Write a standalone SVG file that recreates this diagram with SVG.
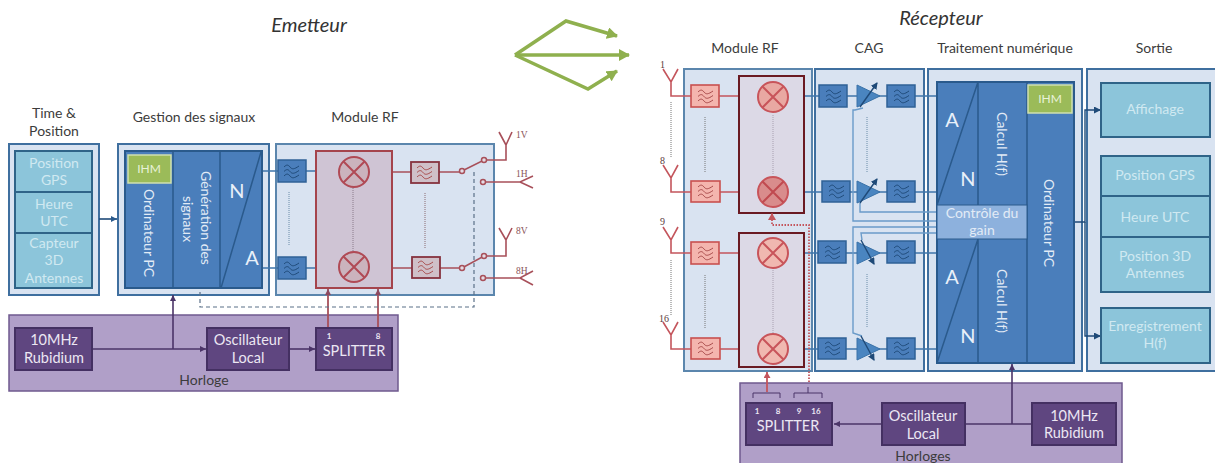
<svg xmlns="http://www.w3.org/2000/svg" width="1215" height="463" viewBox="0 0 1215 463">
<style>
text{font-family:Lato,"Open Sans",sans-serif;text-anchor:middle}
.h{font-size:14px;fill:#3c3c3c}
.t{font-size:20px;font-style:italic;fill:#333}
.w{font-size:14px;fill:#e2ebf6}
.c{font-size:14px;fill:#d0e9f1}
.p{font-size:14.500px;fill:#ece7f3}
.big{font-size:20px;fill:#e9f0f9}
.n{font-family:"Liberation Serif",serif;font-size:9.500px;fill:#8a5358;text-anchor:start}
.nb{font-family:"Liberation Serif",serif;font-size:10px;fill:#5a3a3c;text-anchor:start}
.pnum{font-size:8px;font-weight:bold;fill:#ece7f3}
.pane{fill:#d9e3f1;stroke:#5b86ad;stroke-width:2}
.pane2{fill:#d9e3f1;stroke:#3f6f9f;stroke-width:2}
.blue{fill:#4a7ebb;stroke:#2a5a8c;stroke-width:2}
.cy{fill:#8cc5da;stroke:#2f6488;stroke-width:2}
.hor{fill:#b09fc8;stroke:#6f5a8e;stroke-width:1.500}
.pur{fill:#5f4680;stroke:#443062;stroke-width:2}
.ihm{fill:#9bbb59;stroke:#cfe0b0;stroke-width:1.500}
.lbl{fill:#e8f2d8;font-size:12px}
.mixbox{fill:#cfc4d4;stroke:#a5444c;stroke-width:2}
.mixboxd{fill:#dcd9e6;stroke:#6a1a22;stroke-width:2}
.rl{fill:none;stroke:#a8505a;stroke-width:1.600}
.rr{fill:none;stroke:#c4555c;stroke-width:1.600}
.bl{fill:none;stroke:#3f75aa;stroke-width:1.600}
.bl2{fill:none;stroke:#6a9bc9;stroke-width:1.400}
.dark{fill:none;stroke:#1f4a78;stroke-width:1.400}
.pl{fill:none;stroke:#4b3468;stroke-width:1.600}
.dash{fill:none;stroke:#5a7088;stroke-width:1.200;stroke-dasharray:4 3}
.dot{fill:none;stroke-width:1;stroke-dasharray:1 1}
.fb{fill:#4a7ebb;stroke:#2f6296;stroke-width:1.500}
.fr{fill:#f4b5ae;stroke:#c8504f;stroke-width:1.600}
.fd{fill:#cfc0c8;stroke:#85323f;stroke-width:1.800}
.wb{fill:none;stroke:#1f4a78;stroke-width:1}
.wr{fill:none;stroke:#a84a4a;stroke-width:1}
.mx{fill:#e9a8a2;stroke:#c8545a;stroke-width:2}
.mx2{fill:#cbb3bd;stroke:#b04a55;stroke-width:2}
.amp{fill:#4a85c0;stroke:#3a72a8;stroke-width:1}
</style>
<defs>
<marker id="ap" markerWidth="7" markerHeight="7" refX="6" refY="3" orient="auto" markerUnits="userSpaceOnUse"><path d="M0,0L6,3L0,6Z" fill="#4b3468"/></marker>
<marker id="ab" markerWidth="7" markerHeight="7" refX="6" refY="3" orient="auto" markerUnits="userSpaceOnUse"><path d="M0,0L6,3L0,6Z" fill="#2a5a8c"/></marker>
<marker id="ar" markerWidth="7" markerHeight="7" refX="6" refY="3" orient="auto" markerUnits="userSpaceOnUse"><path d="M0,0L6,3L0,6Z" fill="#8c4a60"/></marker>
<marker id="arr" markerWidth="8" markerHeight="8" refX="6" refY="3.500" orient="auto" markerUnits="userSpaceOnUse"><path d="M0,0L6,3.500L0,7Z" fill="#c4555c"/></marker>
<marker id="ag" markerWidth="13" markerHeight="13" refX="10" refY="6" orient="auto" markerUnits="userSpaceOnUse"><path d="M0,0L11,6L0,12Z" fill="#8fb04e"/></marker>
<marker id="ad" markerWidth="9" markerHeight="9" refX="6" refY="3.500" orient="auto" markerUnits="userSpaceOnUse"><path d="M0,0L7,3.500L0,7Z" fill="#1f4a78"/></marker>
<g id="wv"><path d="M-8,-4c2.500,-2.500 4,-2.500 6,0s4,2.500 9,-1M-8,0.500c2.500,-2.500 4,-2.500 6,0s4,2.500 9,-1M-8,5c2.500,-2.500 4,-2.500 6,0s4,2.500 9,-1"/></g>
<g id="xx"><path d="M-10.500,-10.500L10.500,10.500M-10.500,10.500L10.500,-10.500"/></g>
</defs>

<g id="titles">
<text class="t" x="309" y="32">Emetteur</text>
<text class="t" x="941" y="25">Récepteur</text>
<text class="h" x="54" y="118">Time &amp;</text><text class="h" x="54" y="136">Position</text>
<text class="h" x="194" y="122">Gestion des signaux</text>
<text class="h" x="365" y="122">Module RF</text>
<text class="h" x="745" y="53">Module RF</text>
<text class="h" x="869" y="53">CAG</text>
<text class="h" x="1005" y="53">Traitement numérique</text>
<text class="h" x="1154" y="53">Sortie</text>
</g>

<g id="green-arrows" fill="none" stroke="#8fb04e" stroke-width="3.500">
<path d="M515,55L566,21L617,36" marker-end="url(#ag)"/>
<path d="M515,55L629,55" marker-end="url(#ag)"/>
<path d="M515,55L588,89L617,71" marker-end="url(#ag)"/>
</g>

<g id="containers">
<rect class="pane2" x="9" y="144" width="90" height="151"/>
<rect class="pane2" x="118" y="144" width="151" height="151"/>
<rect class="pane" x="276" y="144" width="218" height="151"/>
<rect class="hor" x="9" y="315" width="389" height="76"/>
<rect class="pane" x="684" y="69" width="128" height="302"/>
<rect class="pane2" x="815" y="69" width="109" height="302"/>
<rect class="pane2" x="928" y="69" width="154" height="302"/>
<rect class="pane2" x="1087" y="69" width="132" height="302"/>
<rect class="hor" x="740" y="383" width="382" height="85"/>
</g>

<g id="connectors">
<path class="bl" d="M262,171H316M262,268H316"/>
<path class="rl" d="M392,172H412M438,172H462M392,268H412M439,268H462"/>
<path class="rl" d="M462,171L484,160H506V145M506,145L499,132M506,145L512,132"/>
<path class="rl" d="M462,268L484,256H506V240M506,240L499,228M506,240L512,228"/>
<path class="rl" d="M483,182H520L533,176M520,182L533,188"/>
<path class="rl" d="M483,278H520L533,271M520,278L533,285"/>
<path d="M99,219H117" class="dark" style="stroke-width:1.600" marker-end="url(#ab)"/>
<path class="pl" d="M92,349H206" marker-end="url(#ap)"/>
<path class="pl" d="M173,349V295" marker-end="url(#ap)"/>
<path class="pl" d="M289,349H315" marker-end="url(#ap)"/>
<path d="M328,328V289" fill="none" stroke="#a8505a" stroke-width="1.800" marker-end="url(#ar)"/>
<path d="M378,328V289" fill="none" stroke="#a8505a" stroke-width="1.800" marker-end="url(#ar)"/>
<path class="dash" d="M200,292V307H474V170"/>

<path class="rr" d="M671,82V96H691M663,69L671,82L678,69M719,96H740"/>
<path class="rr" d="M671,178V192H691M663,165L671,178L678,165M719,192H740"/>
<path class="rr" d="M671,240V253H691M663,227L671,240L678,227M719,253H740"/>
<path class="rr" d="M671,335V349H691M663,322L671,335L678,322M719,349H740"/>
<path class="bl" d="M804,96H937M804,192H937M804,253H937M804,349H937"/>
<path class="bl2" d="M863,108L855,110H853V221H937M860,203V212H937"/>
<path class="bl2" d="M862,240L861,233H937M862,336L853,333V227H937"/>
<path class="dark" d="M1074,222H1085V110H1100" marker-end="url(#ad)"/>
<path class="dark" d="M1085,222V336H1100" marker-end="url(#ad)"/>
<path class="pl" d="M1032,424H883" marker-end="url(#ap)"/>
<path class="pl" d="M882,424H834" marker-end="url(#ap)"/>
<path class="pl" d="M1012,424V364" marker-end="url(#ap)"/>
<path d="M767,392V372" fill="none" stroke="#c4555c" stroke-width="1.800" marker-end="url(#arr)"/>
<path d="M753,398V393H780V398M794,398V393H822V398M808,393V387" fill="none" stroke="#4b3468" stroke-width="1"/>
</g>

<g id="time-position">
<rect class="cy" x="15" y="151" width="77" height="41"/>
<rect class="cy" x="15" y="192" width="77" height="41"/>
<rect class="cy" x="15" y="233" width="77" height="55"/>
<text class="c" x="54" y="168">Position</text><text class="c" x="54" y="185">GPS</text>
<text class="c" x="54" y="209">Heure</text><text class="c" x="54" y="226">UTC</text>
<text class="c" x="54" y="248">Capteur</text><text class="c" x="54" y="265">3D</text><text class="c" x="54" y="283">Antennes</text>
</g>

<g id="gestion">
<rect class="blue" x="125" y="151" width="137" height="137"/>
<path d="M173,151V288M220,151V288M221,288L261,152" fill="none" stroke="#2a5a8c" stroke-width="1.500"/>
<rect class="ihm" x="128" y="155" width="43" height="28"/>
<text class="lbl" x="149" y="173">IHM</text>
<text class="w" transform="translate(144,233) rotate(90)">Ordinateur PC</text>
<text class="w" transform="translate(201,218) rotate(90)">Génération des</text>
<text class="w" transform="translate(183,219) rotate(90)">signaux</text>
<text class="big" x="237" y="198">N</text><text class="big" x="252" y="265">A</text>
</g>

<g id="rf-tx">
<rect class="mixbox" x="316" y="151" width="76" height="137"/>
<path d="M353,188V252" class="dot" stroke="#8a7a8a"/>
<rect class="fb" x="278" y="160" width="28" height="22"/>
<rect class="fb" x="278" y="257" width="28" height="22"/>
<use href="#wv" x="292" y="171" class="wb"/><use href="#wv" x="292" y="268" class="wb"/>
<path d="M289,192V246" class="dot" stroke="#6a8ca8"/>
<circle class="mx2" cx="354" cy="172" r="15"/><use href="#xx" x="354" y="172" stroke="#b04a55" stroke-width="2"/>
<circle class="mx2" cx="354" cy="267" r="15"/><use href="#xx" x="354" y="267" stroke="#b04a55" stroke-width="2"/>
<rect class="fd" x="411" y="162" width="28" height="21"/>
<rect class="fd" x="412" y="257" width="28" height="21"/>
<use href="#wv" x="425" y="172" class="wr"/><use href="#wv" x="426" y="267" class="wr"/>
<path d="M425,193V248" class="dot" stroke="#8a6a70"/>
</g>
<g id="antennas-tx">
<g fill="#e4dce6" stroke="#a8505a" stroke-width="1.500"><circle cx="462" cy="171" r="2.500"/><circle cx="484" cy="160" r="2.500"/><circle cx="483" cy="182" r="2.500"/><circle cx="462" cy="268" r="2.500"/><circle cx="484" cy="256" r="2.500"/><circle cx="483" cy="278" r="2.500"/></g>
<text class="n" x="516" y="138">1V</text><text class="n" x="516" y="234">8V</text>
<text class="n" x="516" y="177">1H</text><text class="n" x="516" y="274">8H</text>
</g>

<g id="horloge-tx">
<rect class="pur" x="15" y="328" width="77" height="42"/>
<rect class="pur" x="207" y="328" width="82" height="42"/>
<rect class="pur" x="316" y="328" width="76" height="42"/>
<text class="p" x="54" y="345">10MHz</text><text class="p" x="54" y="363">Rubidium</text>
<text class="p" x="248" y="345">Oscillateur</text><text class="p" x="248" y="363">Local</text>
<text class="pnum" x="329" y="339">1</text><text class="pnum" x="378" y="339">8</text>
<text class="p" x="354" y="356">SPLITTER</text>
<text class="h" x="204" y="385">Horloge</text>
</g>

<g id="rf-rx">
<rect class="mixboxd" x="739" y="76" width="65" height="137"/>
<rect class="mixboxd" x="739" y="233" width="65" height="134"/>
<path d="M773,115V175M773,270V335" class="dot" stroke="#a8a0b0"/>
<path d="M705,117V172M705,275V329M671,102V157M671,260V315" class="dot" stroke="#777"/>
<rect class="fr" x="691" y="85" width="28" height="22"/><rect class="fr" x="691" y="181" width="29" height="21"/>
<rect class="fr" x="691" y="242" width="28" height="22"/><rect class="fr" x="691" y="338" width="29" height="21"/>
<use href="#wv" x="706" y="96" class="wr"/><use href="#wv" x="706" y="191" class="wr"/><use href="#wv" x="706" y="253" class="wr"/><use href="#wv" x="706" y="348" class="wr"/>
<circle class="mx" cx="773" cy="97" r="15"/><use href="#xx" x="773" y="97" stroke="#c8545a" stroke-width="2"/>
<circle class="mx" cx="773" cy="192" r="15" style="fill:#d98c8c"/><use href="#xx" x="773" y="192" stroke="#c04a50" stroke-width="2"/>
<circle class="mx" cx="773" cy="253" r="15" style="fill:#f0b8b0"/><use href="#xx" x="773" y="253" stroke="#c8545a" stroke-width="2"/>
<circle class="mx" cx="773" cy="349" r="15" style="fill:#f0b8b0"/><use href="#xx" x="773" y="349" stroke="#c8545a" stroke-width="2"/>
<text class="nb" x="660" y="68">1</text><text class="nb" x="660" y="164">8</text><text class="nb" x="660" y="225">9</text><text class="nb" x="659" y="322">16</text>
<path d="M809,382V225H772V213" fill="none" stroke="#c4555c" stroke-width="1.800" stroke-dasharray="1.500 1.500"/>
<path d="M772,213L768,220H776Z" fill="#c4555c"/>
</g>

<g id="cag">
<rect class="fb" x="819" y="85" width="28" height="22"/><rect class="fb" x="822" y="181" width="28" height="21"/>
<rect class="fb" x="818" y="241" width="28" height="22"/><rect class="fb" x="818" y="338" width="28" height="21"/>
<rect class="fb" x="887" y="85" width="28" height="22"/><rect class="fb" x="887" y="181" width="28" height="21"/>
<rect class="fb" x="887" y="241" width="28" height="22"/><rect class="fb" x="887" y="338" width="28" height="21"/>
<use href="#wv" x="834" y="96" class="wb"/><use href="#wv" x="837" y="191" class="wb"/><use href="#wv" x="833" y="252" class="wb"/><use href="#wv" x="833" y="348" class="wb"/>
<use href="#wv" x="902" y="96" class="wb"/><use href="#wv" x="902" y="191" class="wb"/><use href="#wv" x="902" y="252" class="wb"/><use href="#wv" x="902" y="348" class="wb"/>
<path class="amp" d="M857,85L880,96L857,107Z"/><path class="amp" d="M857,181L880,192L857,203Z"/><path class="amp" d="M857,242L880,253L857,264Z"/><path class="amp" d="M857,338L880,349L857,360Z"/>
<path class="dark" d="M860,107L877,83" marker-end="url(#ad)"/><path class="dark" d="M860,203L877,179" marker-end="url(#ad)"/>
<path class="dark" d="M861,240L874,264" marker-end="url(#ad)"/><path class="dark" d="M861,336L874,360" marker-end="url(#ad)"/>
<path d="M867,117V172M867,274V328" class="dot" stroke="#6a8ca8"/>
</g>

<g id="traitement">
<rect class="blue" x="937" y="82" width="137" height="281"/>
<path d="M978,82V205M978,239V363M1027,82V363M937,205L978,82M937,363L978,239" fill="none" stroke="#2a5a8c" stroke-width="1.500"/>
<rect x="937" y="205" width="90" height="34" fill="#8db1dd" stroke="#2a5a8c" stroke-width="1"/>
<rect class="ihm" x="1028" y="85" width="44" height="28"/>
<text class="lbl" x="1050" y="103">IHM</text>
<text class="big" x="952" y="127">A</text><text class="big" x="968" y="186">N</text>
<text class="big" x="952" y="284">A</text><text class="big" x="968" y="343">N</text>
<text class="w" transform="translate(997,144) rotate(90)">Calcul H(f)</text>
<text class="w" transform="translate(997,301) rotate(90)">Calcul H(f)</text>
<text class="w" transform="translate(1044,223) rotate(90)">Ordinateur PC</text>
<text class="w" x="982" y="218">Contrôle du</text><text class="w" x="982" y="235">gain</text>
</g>

<g id="sortie">
<rect class="cy" x="1101" y="83" width="109" height="54"/>
<rect class="cy" x="1101" y="156" width="109" height="40"/>
<rect class="cy" x="1101" y="196" width="109" height="41"/>
<rect class="cy" x="1101" y="237" width="109" height="55"/>
<rect class="cy" x="1101" y="308" width="109" height="55"/>
<text class="c" x="1155" y="114">Affichage</text>
<text class="c" x="1155" y="180">Position GPS</text>
<text class="c" x="1155" y="222">Heure UTC</text>
<text class="c" x="1155" y="261">Position 3D</text><text class="c" x="1155" y="278">Antennes</text>
<text class="c" x="1155" y="331">Enregistrement</text><text class="c" x="1155" y="348">H(f)</text>
</g>

<g id="horloges-rx">
<rect class="pur" x="746" y="403" width="86" height="42"/>
<rect class="pur" x="882" y="403" width="83" height="42"/>
<rect class="pur" x="1032" y="403" width="84" height="42"/>
<text class="pnum" x="757" y="414">1</text><text class="pnum" x="778" y="414">8</text><text class="pnum" x="799" y="414">9</text><text class="pnum" x="816" y="414">16</text>
<text class="p" x="788" y="431">SPLITTER</text>
<text class="p" x="923" y="421">Oscillateur</text><text class="p" x="923" y="439">Local</text>
<text class="p" x="1074" y="421">10MHz</text><text class="p" x="1074" y="438">Rubidium</text>
<text class="h" x="923" y="461">Horloges</text>
</g>
</svg>
